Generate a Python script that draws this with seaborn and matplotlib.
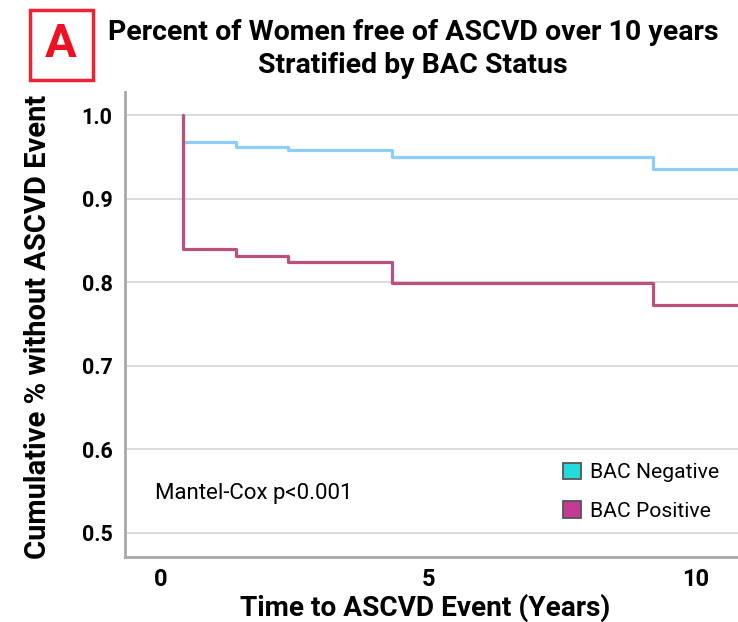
import numpy as np
import pandas as pd
import matplotlib
matplotlib.use("Agg")
import matplotlib.pyplot as plt
from matplotlib.patches import Patch, Rectangle
import seaborn as sns

# Kaplan-Meier step values
neg_time = [0.41, 0.41, 1.40, 2.38, 4.33, 9.21, 10.8]
neg_surv = [1.000, 0.968, 0.962, 0.958, 0.950, 0.936, 0.936]
pos_time = [0.41, 0.41, 1.40, 2.38, 4.33, 9.21, 10.8]
pos_surv = [1.000, 0.840, 0.832, 0.825, 0.799, 0.773, 0.773]

y_ticks = [0.5, 0.6, 0.7, 0.8, 0.9, 1.0]
x_ticks = [0, 5, 10]
groups = ["BAC Negative", "BAC Positive"]

df = pd.concat([
    pd.DataFrame({"time": neg_time, "surv": neg_surv, "group": groups[0]}),
    pd.DataFrame({"time": pos_time, "surv": pos_surv, "group": groups[1]}),
])

sns.set_style("white")
plt.rcParams["font.family"] = ["Roboto", "DejaVu Sans"]
plt.rcParams["text.color"] = "black"
plt.rcParams["xtick.color"] = "black"
plt.rcParams["ytick.color"] = "black"
plt.rcParams["axes.labelcolor"] = "black"

fig = plt.figure(figsize=(7.38, 6.22), dpi=100)
ax = fig.add_axes([0.1694, 0.1045, 0.8306, 0.7475])

line_colors = {groups[0]: "#8ccdfa", groups[1]: "#b9517c"}
sns.lineplot(data=df, x="time", y="surv", hue="group", palette=line_colors,
             drawstyle="steps-post", linewidth=2.3, estimator=None, sort=False,
             legend=False, ax=ax)

ax.set_xlim(-0.67, 10.8)
ax.set_ylim(0.471, 1.028)
ax.set_yticks(y_ticks)
ax.set_yticklabels([f"{v:.1f}" for v in y_ticks], fontsize=15.5, fontweight="bold")
ax.set_xticks(x_ticks)
ax.set_xticklabels([str(v) for v in x_ticks], fontsize=17, fontweight="bold")
ax.tick_params(axis="y", length=2, width=0.6, color="#cccccc", pad=7)
ax.tick_params(axis="x", length=0, pad=8)
ax.yaxis.grid(True, color="#d4d4d4", linewidth=1.2)
ax.set_axisbelow(True)
for s in ["top", "right"]:
    ax.spines[s].set_visible(False)
for s in ["left", "bottom"]:
    ax.spines[s].set_color("#a8a8a8")
    ax.spines[s].set_linewidth(2)

ax.set_xlabel("Time to ASCVD Event (Years)", fontsize=20.2, fontweight="bold")
ax.xaxis.set_label_coords(0.489, -0.079)
ax.set_ylabel("Cumulative % without ASCVD Event", fontsize=21, fontweight="bold",
              va="center")
ax.yaxis.set_label_coords(-0.142, 0.495)

ax.text(-0.11, 0.547, "Mantel-Cox p<0.001", fontsize=16, va="center", ha="left")

handles = [Patch(facecolor="#22dcdc", edgecolor="#555555", linewidth=1.3),
           Patch(facecolor="#c43a94", edgecolor="#555555", linewidth=1.3)]
ax.legend(handles, groups, loc="upper left", bbox_to_anchor=(0.69, 0.235),
          frameon=False, fontsize=15.2, handlelength=0.85, handleheight=0.85,
          handletextpad=0.45, labelspacing=0.9, borderpad=0.2)

fig.text(0.56, 0.947, "Percent of Women free of ASCVD over 10 years",
         fontsize=20.5, fontweight="bold", ha="center", va="center")
fig.text(0.56, 0.895, "Stratified by BAC Status",
         fontsize=20.5, fontweight="bold", ha="center", va="center")
fig.patches.append(Rectangle((30 / 738, 1 - 80 / 622), 63 / 738, 70 / 622,
                             transform=fig.transFigure, fill=False,
                             edgecolor="#ee2233", linewidth=2.5))
fig.text(61 / 738, 1 - 44 / 622, "A", fontsize=34, fontweight="bold",
         color="#ee1122", ha="center", va="center")

fig.savefig("out.png", dpi=100)
